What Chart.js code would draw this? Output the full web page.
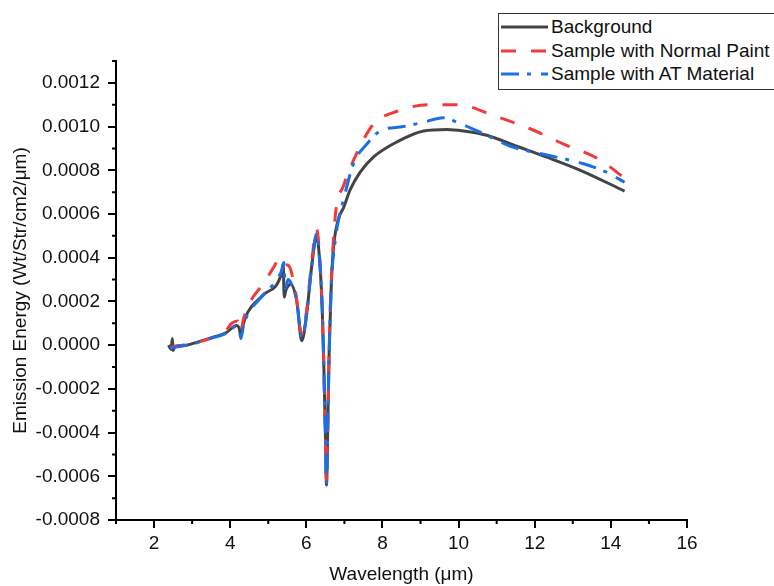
<!DOCTYPE html>
<html>
<head>
<meta charset="utf-8">
<script src="https://cdn.jsdelivr.net/npm/chart.js@4.4.1/dist/chart.umd.min.js"></script>
<style>
  html, body { margin: 0; padding: 0; background: #fff; overflow: hidden; }
  #wrap { position: relative; width: 774px; height: 586px; }
  #myChart { position: absolute; left: 0; top: 0; }
  #legend {
    position: absolute; left: 498px; top: 13px; width: 300px; height: 74px;
    border: 1px solid #333; background: #fff; padding-top: 1px;
    font-family: "Liberation Sans", Arial, sans-serif; font-size: 19px; color: #111;
  }
  .row { display: flex; align-items: center; height: 23.7px; white-space: nowrap; }
  .row svg { margin-left: 2px; margin-right: 3px; }
</style>
</head>
<body>
<div id="wrap">
  <canvas id="myChart" width="774" height="586"></canvas>
  <div id="legend"></div>
</div>
<script>
// Dados
const bgWavelength = [2.38, 2.45, 2.48, 2.5, 2.55, 2.8, 3.03, 3.47, 3.9, 4.17, 4.23, 4.28, 4.35, 4.46, 4.87, 5.35, 5.39, 5.42, 5.46, 5.52, 5.58, 5.75, 5.88, 6.0, 6.14, 6.27, 6.36, 6.42, 6.46, 6.5, 6.53, 6.57, 6.6, 6.65, 6.7, 6.83, 6.98, 7.15, 7.41, 7.76, 8.38, 9.08, 9.69, 10.13, 10.74, 11.53, 12.32, 13.2, 14.36];
const bgEnergy = [0, -0.00002, 0.00003, -0.000025, -0.000005, -0.000002, 0.000008, 0.000032, 0.000058, 0.00009, 0.00008, 0.000045, 0.0001, 0.00015, 0.00023, 0.00033, 0.000372, 0.00022, 0.00025, 0.00027, 0.00028, 0.0002, 0.00002, 0.00013, 0.00036, 0.0005, 0.00036, 0.00015, -0.0001, -0.0004, -0.00064, -0.0003, -0.00003, 0.00025, 0.00042, 0.00057, 0.00063, 0.00071, 0.00079, 0.00086, 0.00093, 0.00098, 0.000987, 0.00098, 0.00096, 0.00091, 0.00086, 0.0008, 0.000705];

const paintWavelength = [2.42, 2.6, 3.03, 3.47, 3.9, 4.04, 4.2, 4.27, 4.35, 4.46, 4.6, 4.87, 5.12, 5.3, 5.38, 5.53, 5.72, 5.88, 6.0, 6.14, 6.27, 6.36, 6.42, 6.46, 6.5, 6.53, 6.57, 6.6, 6.65, 6.76, 6.98, 7.33, 7.76, 8.38, 9.25, 9.96, 11.0, 11.88, 12.76, 13.64, 14.36];
const paintEnergy = [-0.00001, -0.000005, 0.00001, 0.00003, 0.00007, 0.0001, 0.00011, 0.00006, 0.00012, 0.00017, 0.00022, 0.00028, 0.00035, 0.000395, 0.00037, 0.000365, 0.00024, 0.00005, 0.00015, 0.00038, 0.00053, 0.00038, 0.00015, -0.0001, -0.0004, -0.00062, -0.0003, -0.00002, 0.00027, 0.00059, 0.00073, 0.00088, 0.00101, 0.00107, 0.0011, 0.0011, 0.001045, 0.00099, 0.00092, 0.000855, 0.000765];

const atWavelength = [2.42, 2.6, 3.03, 3.47, 3.9, 4.17, 4.23, 4.28, 4.35, 4.46, 4.87, 5.35, 5.41, 5.45, 5.52, 5.58, 5.75, 5.88, 6.0, 6.14, 6.27, 6.36, 6.42, 6.46, 6.5, 6.53, 6.57, 6.6, 6.65, 6.76, 7.0, 7.24, 7.59, 7.94, 8.55, 9.08, 9.6, 9.96, 10.74, 11.36, 12.32, 13.28, 13.9, 14.36];
const atEnergy = [-0.000015, -0.000008, 0.000006, 0.00003, 0.000055, 0.000088, 0.00008, 0.00003, 0.00009, 0.00014, 0.00023, 0.00034, 0.000378, 0.00026, 0.0003, 0.00029, 0.0002, 0.00003, 0.00013, 0.00036, 0.00051, 0.00037, 0.00015, -0.0001, -0.0004, -0.00063, -0.0003, -0.00003, 0.00026, 0.00048, 0.00068, 0.00083, 0.00092, 0.00098, 0.001, 0.00102, 0.00104, 0.00102, 0.00096, 0.00091, 0.00087, 0.00083, 0.00079, 0.000745];

const xTicks = [2, 4, 6, 8, 10, 12, 14, 16];
const xMinorTicks = [1, 3, 5, 7, 9, 11, 13, 15];
const yTicks = [-0.0008, -0.0006, -0.0004, -0.0002, 0, 0.0002, 0.0004, 0.0006, 0.0008, 0.0010, 0.0012];
const yMinorTicks = [-0.0007, -0.0005, -0.0003, -0.0001, 0.0001, 0.0003, 0.0005, 0.0007, 0.0009, 0.0011, 0.0013];

const seriesNames = ['Background', 'Sample with Normal Paint', 'Sample with AT Material'];
const seriesColors = ['#444444', '#ef3b3b', '#1d6fe3'];
const seriesDash = [[], [15, 15], [18, 8, 4, 10]];

const FONT = '"Liberation Sans", Arial, sans-serif';

function toPoints(xs, ys) {
    return xs.map((x, i) => ({ x: x, y: ys[i] }));
}

// Marcas menores dos eixos
const minorTicks = {
    id: 'minorTicks',
    afterDraw(chart) {
        const ctx = chart.ctx;
        const xs = chart.scales.x;
        const ys = chart.scales.y;
        ctx.save();
        ctx.strokeStyle = '#000';
        ctx.lineWidth = 2;
        ctx.beginPath();
        xMinorTicks.forEach(v => {
            const px = xs.getPixelForValue(v);
            ctx.moveTo(px, xs.top);
            ctx.lineTo(px, xs.top + 4);
        });
        yMinorTicks.forEach(v => {
            const py = ys.getPixelForValue(v);
            ctx.moveTo(ys.right, py);
            ctx.lineTo(ys.right - 4, py);
        });
        ctx.stroke();
        ctx.restore();
    }
};

const datasets = [
    { data: toPoints(bgWavelength, bgEnergy), order: 3 },
    { data: toPoints(paintWavelength, paintEnergy), order: 2 },
    { data: toPoints(atWavelength, atEnergy), order: 1 }
].map((d, i) => ({
    label: seriesNames[i],
    data: d.data,
    order: d.order,
    showLine: true,
    borderColor: seriesColors[i],
    backgroundColor: seriesColors[i],
    borderWidth: 3,
    borderDash: seriesDash[i],
    borderCapStyle: 'butt',
    borderJoinStyle: 'round',
    cubicInterpolationMode: 'monotone',
    pointRadius: 0,
    fill: false
}));

const ctx = document.getElementById('myChart').getContext('2d');
new Chart(ctx, {
    type: 'scatter',
    data: { datasets: datasets },
    options: {
        responsive: false,
        animation: false,
        layout: { padding: { left: 0, top: 61, right: 87, bottom: 0 } },
        plugins: {
            legend: { display: false },
            tooltip: { enabled: false }
        },
        scales: {
            x: {
                type: 'linear',
                min: 1,
                max: 16,
                afterBuildTicks: s => { s.ticks = xTicks.map(v => ({ value: v })); },
                afterFit: s => { s.height = 66; },
                grid: { display: true, drawOnChartArea: false, drawTicks: true, tickLength: 8, color: '#000', tickWidth: 2, lineWidth: 2 },
                border: { display: true, color: '#000', width: 2 },
                ticks: { color: '#111', padding: 4, maxRotation: 0, font: { family: FONT, size: 19 } },
                title: { display: true, text: 'Wavelength (μm)', color: '#111', padding: { top: 0, bottom: 0 }, font: { family: FONT, size: 19 } }
            },
            y: {
                type: 'linear',
                min: -0.0008,
                max: 0.0013,
                afterBuildTicks: s => { s.ticks = yTicks.map(v => ({ value: v })); },
                afterFit: s => { s.width = 116; },
                grid: { display: true, drawOnChartArea: false, drawTicks: true, tickLength: 8, color: '#000', tickWidth: 2, lineWidth: 2 },
                border: { display: true, color: '#000', width: 2 },
                ticks: {
                    color: '#111',
                    padding: 8,
                    font: { family: FONT, size: 19 },
                    callback: v => Number(v).toFixed(4)
                },
                title: { display: true, text: 'Emission Energy (Wt/Str/cm2/μm)', color: '#111', padding: { top: 9, bottom: 0 }, font: { family: FONT, size: 19 } }
            }
        }
    },
    plugins: [minorTicks]
});

// Legenda em HTML
const legend = document.getElementById('legend');
seriesNames.forEach((name, i) => {
    const row = document.createElement('div');
    row.className = 'row';
    const dash = seriesDash[i].length ? seriesDash[i].join(' ') : 'none';
    row.innerHTML = '<svg width="47" height="6"><line x1="0" y1="3" x2="47" y2="3" stroke="' + seriesColors[i] +
        '" stroke-width="3" stroke-dasharray="' + dash + '"/></svg>';
    const span = document.createElement('span');
    span.textContent = name;
    row.appendChild(span);
    legend.appendChild(row);
});
</script>
</body>
</html>
